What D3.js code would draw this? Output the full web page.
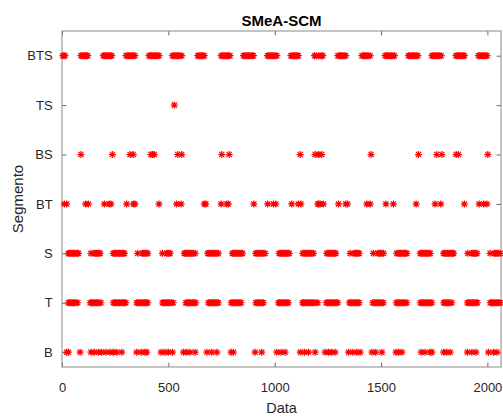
<!DOCTYPE html>
<html>
<head>
<meta charset="utf-8">
<script src="https://cdn.jsdelivr.net/npm/d3@7"></script>
<style>
  html, body { margin: 0; padding: 0; background: #fff; }
  svg { display: block; font-family: "Liberation Sans", Arial, sans-serif; }
</style>
</head>
<body>
<svg id="chart" width="503" height="417"></svg>
<script>
// Segment categories, bottom to top
const categories = ["B", "T", "S", "BT", "BS", "TS", "BTS"];
const xTicks = [0, 500, 1000, 1500, 2000];

// Dates (sample index) at which each segment occurs
const bDates = [22, 30, 85, 136, 152, 171, 187, 206, 226, 241, 257, 281,
  351, 372, 390, 398, 466, 484, 500, 519, 571, 587, 602, 626, 681, 704, 728,
  795, 806, 908, 939, 1010, 1030, 1049, 1120, 1140, 1159, 1190,
  1237, 1253, 1268, 1284, 1347, 1367, 1386, 1402, 1457, 1475, 1504,
  1570, 1582, 1598, 1689, 1707, 1731, 1739, 1794, 1809, 1825,
  1906, 1927, 1946, 2005, 2029, 2045];

const tDates = [30, 36, 42, 48, 54, 60, 66, 74,
  132, 138, 144, 150, 156, 162, 168, 175, 183,
  241, 247, 253, 259, 265, 271, 277, 283, 289, 295, 300,
  351, 357, 363, 369, 375, 381, 387, 393, 398, 403,
  472, 478, 484, 490, 496, 502, 508, 515, 523,
  582, 588, 594, 600, 606, 612, 618, 624, 629,
  688, 694, 700, 706, 712, 718, 724, 730, 735,
  795, 801, 807, 813, 819, 825, 831, 837, 842,
  911, 917, 923, 929, 935, 941, 947,
  1017, 1023, 1029, 1035, 1041, 1047, 1053, 1059, 1064,
  1130, 1136, 1142, 1148, 1154, 1160, 1166, 1172, 1178, 1186, 1195, 1203,
  1242, 1248, 1254, 1260, 1266, 1272, 1278, 1284, 1290, 1297,
  1351, 1357, 1363, 1369, 1375, 1381, 1387, 1392, 1397,
  1461, 1467, 1473, 1479, 1485, 1491, 1497, 1504, 1511,
  1571, 1577, 1583, 1589, 1595, 1601, 1607, 1614, 1621,
  1684, 1690, 1696, 1702, 1708, 1714, 1720, 1726, 1732, 1739,
  1794, 1800, 1806, 1812, 1818, 1824, 1833,
  1906, 1912, 1918, 1924, 1930, 1936, 1942, 1948, 1953,
  2013, 2019, 2025, 2031, 2037, 2043, 2049, 2055, 2060];

const sDates = [30, 36, 42, 48, 54, 60, 66, 72, 77,
  136, 150, 156, 162, 168, 174, 179,
  241, 247, 253, 259, 265, 271, 277, 283, 288, 293,
  356, 378, 384, 390, 396, 403,
  472, 492, 498, 503, 508,
  575, 581, 587, 593, 599, 605, 611, 617, 626,
  685, 691, 697, 703, 709, 715, 721, 728, 735,
  801, 807, 813, 819, 825, 831, 837, 843, 848,
  911, 917, 923, 929, 935, 941, 948, 955,
  1021, 1027, 1033, 1039, 1045, 1051, 1057, 1063, 1068,
  1132, 1138, 1144, 1150, 1156, 1162, 1168, 1175, 1182,
  1245, 1251, 1257, 1263, 1269, 1275, 1281, 1287,
  1355, 1374, 1380, 1386, 1392, 1397,
  1464, 1485, 1491, 1497, 1503, 1511,
  1574, 1580, 1586, 1592, 1598, 1604, 1610, 1616, 1621,
  1684, 1690, 1696, 1702, 1708, 1714, 1720, 1726, 1731,
  1794, 1800, 1806, 1812, 1818, 1824, 1830, 1836, 1841,
  1908, 1927, 1933, 1939, 1945, 1951,
  2013, 2033, 2039, 2045, 2051, 2060];

const btDates = [11, 22, 111, 124, 199, 222, 230, 304, 336, 343, 456,
  539, 560, 669, 676, 748, 775, 782, 902, 967, 994, 1005,
  1080, 1111, 1123, 1203, 1208, 1214, 1229, 1300, 1334, 1342,
  1433, 1449, 1523, 1558, 1665, 1754, 1781, 1892, 1961, 1982, 1998];

const bsDates = [89, 237, 320, 335, 418, 426, 434, 544, 563, 751, 786,
  1120, 1190, 1206, 1221, 1453, 1676, 1762, 1786, 1853, 1864, 2002];

const tsDates = [528];

const btsDates = [4, 9, 14,
  89, 94, 99, 104, 110, 115, 121,
  194, 200, 206, 212, 218, 224, 229, 234,
  301, 307, 313, 319, 325, 331, 337, 343,
  409, 415, 421, 427, 433, 439, 445, 451, 456,
  519, 525, 531, 537, 543, 549, 555, 563,
  638, 644, 650, 656, 662, 669,
  748, 754, 760, 766, 772, 778, 784, 790,
  853, 859, 865, 871, 877, 883, 889, 895, 900,
  966, 972, 978, 984, 990, 996, 1003, 1010,
  1076, 1082, 1088, 1094, 1100, 1106, 1111,
  1187, 1195, 1206, 1220, 1226,
  1297, 1303, 1309, 1315, 1321, 1327, 1334,
  1410, 1416, 1422, 1428, 1434, 1440, 1449,
  1519, 1525, 1531, 1537, 1543, 1549, 1556, 1563,
  1629, 1635, 1641, 1647, 1653, 1659, 1666, 1673,
  1739, 1745, 1751, 1757, 1763, 1769, 1776, 1783,
  1852, 1858, 1864, 1870, 1876, 1882, 1887, 1892,
  1958, 1964, 1970, 1976, 1982, 1988, 1993, 1998];

const seriesByCategory = {
  "B": bDates, "T": tDates, "S": sDates, "BT": btDates,
  "BS": bsDates, "TS": tsDates, "BTS": btsDates
};

(function draw() {
  const svg = d3.select("#chart");
  const plotLeft = 62, plotRight = 501, plotTop = 31, plotBottom = 367;
  const axisColor = "#262626";

  const x = d3.scaleLinear().domain([0, 2064]).range([plotLeft, plotRight]);
  const y = d3.scaleLinear().domain([0.7, 7.5]).range([plotBottom, plotTop]);
  const catPos = c => categories.indexOf(c) + 1;

  const tickLen = 4.4;

  // Bottom axis with labels
  const gx = svg.append("g")
    .attr("transform", `translate(0,${plotBottom})`)
    .call(d3.axisBottom(x).tickValues(xTicks).tickFormat(d3.format("d"))
      .tickSizeInner(-tickLen).tickSizeOuter(0).tickPadding(11 + tickLen));
  // Top axis: ticks only
  const gxt = svg.append("g")
    .attr("transform", `translate(0,${plotTop})`)
    .call(d3.axisTop(x).tickValues(xTicks).tickSizeInner(-tickLen).tickSizeOuter(0).tickFormat(""));
  // Left axis with category labels
  const gy = svg.append("g")
    .attr("transform", `translate(${plotLeft},0)`)
    .call(d3.axisLeft(y).tickValues(categories.map(catPos))
      .tickFormat(v => categories[v - 1]).tickSizeInner(-tickLen).tickSizeOuter(0).tickPadding(5 + tickLen));
  // Right axis: ticks only
  const gyr = svg.append("g")
    .attr("transform", `translate(${plotRight},0)`)
    .call(d3.axisRight(y).tickValues(categories.map(catPos)).tickSizeInner(-tickLen).tickSizeOuter(0).tickFormat(""));

  [gx, gxt, gy, gyr].forEach(g => {
    g.select(".domain").remove();
    g.selectAll(".tick line").attr("stroke", axisColor).attr("stroke-width", 0.7);
    g.selectAll(".tick text")
      .attr("fill", axisColor)
      .style("font-family", "'Liberation Sans', Arial, sans-serif")
      .style("font-size", "13px");
  });

  // Axes box
  svg.append("rect")
    .attr("x", plotLeft).attr("y", plotTop)
    .attr("width", plotRight - plotLeft).attr("height", plotBottom - plotTop)
    .attr("fill", "none").attr("stroke", "#8a8a8a").attr("stroke-width", 1);

  // Asterisk marker: plus combined with a cross
  const r = 3.5, d = 2.6;
  const asterisk = `M${-r},0H${r}M0,${-r}V${r}M${-d},${-d}L${d},${d}M${-d},${d}L${d},${-d}`;

  const points = [];
  categories.forEach(c => seriesByCategory[c].forEach(v => points.push({ c, v })));

  svg.append("g")
    .selectAll("path")
    .data(points)
    .join("path")
    .attr("transform", p => `translate(${x(p.v)},${y(catPos(p.c))})`)
    .attr("d", asterisk)
    .attr("fill", "none")
    .attr("stroke", "#ff0000")
    .attr("stroke-width", 1.2);

  // Title and axis labels
  svg.append("text")
    .attr("x", (plotLeft + plotRight) / 2).attr("y", 26)
    .attr("text-anchor", "middle")
    .style("font-size", "15px").style("font-weight", "bold")
    .attr("fill", "#000")
    .text("SMeA-SCM");

  svg.append("text")
    .attr("x", (plotLeft + plotRight) / 2).attr("y", 413)
    .attr("text-anchor", "middle")
    .style("font-size", "14.5px")
    .attr("fill", axisColor)
    .text("Data");

  svg.append("text")
    .attr("transform", `translate(23,${(plotTop + plotBottom) / 2}) rotate(-90)`)
    .attr("text-anchor", "middle")
    .style("font-size", "15px")
    .attr("fill", axisColor)
    .text("Segmento");
})();
</script>
</body>
</html>
